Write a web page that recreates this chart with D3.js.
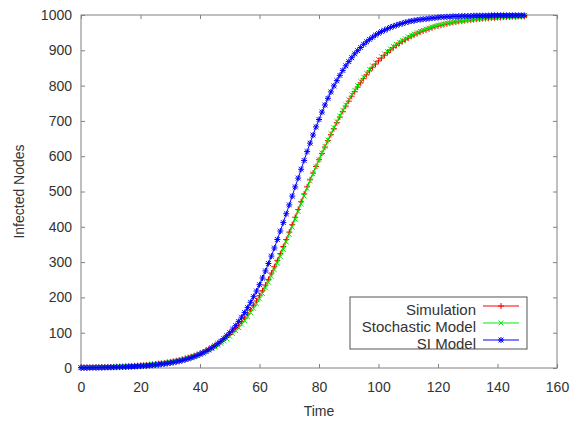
<!DOCTYPE html>
<html>
<head>
<meta charset="utf-8">
<script src="https://cdn.jsdelivr.net/npm/d3@7"></script>
<style>
  body { margin: 0; background: #fff; }
  svg { display: block; font-family: "Liberation Sans", Arial, sans-serif; }
  .axis path { display: none; }
  .axis line { stroke: #808080; }
  .axis text { fill: #333; font-size: 14px; }
</style>
</head>
<body>
<svg id="chart" width="579" height="423"></svg>
<script>
// time steps 0..149
let time = d3.range(150);

let simulation = [
  1.2,1.3,1.5,1.6,1.8,1.9,2.1,2.3,2.5,2.7,
  3.0,3.3,3.6,3.9,4.3,4.7,5.1,5.6,6.1,6.6,
  7.2,7.9,8.6,9.4,10.3,11.3,12.3,13.4,14.6,16.0,
  17.5,19.0,20.8,22.7,24.7,27.0,29.4,32.0,34.7,38.0,
  41.5,45.2,49.2,53.5,58.1,63.3,68.9,74.6,81.3,88.1,
  95.5,103.5,112,121,131,141,153,164,177,190,
  205,219,235,251,269,287,305,324,344,364,
  385,406,427,449,471,493,513,533,552,571,
  590,608,626,644,661,678,695,711,727,742,
  756,770,783,796,808,820,831,842,852,861,
  870,878,886,894,901,908,914,920,925,930,
  935,940,944,948,952,955,958,961,964,967,
  969,971,973,975,977,979,980,982,983,984,
  985,986,987,988,989,990,990,991,992,992,
  993,993,994,994,995,995,995,996,996,996
];

let stochastic = [
  1.1,1.2,1.4,1.5,1.7,1.8,2.0,2.2,2.4,2.6,
  2.9,3.2,3.5,3.8,4.1,4.5,4.9,5.4,5.9,6.4,
  7.0,7.6,8.3,9.1,10.0,10.9,11.9,13.0,14.1,15.4,
  16.8,18.3,19.9,21.7,23.6,25.8,28.1,30.5,33.1,36.1,
  39.3,42.8,46.5,50.5,54.8,59.6,64.7,70.2,76.3,82.8,
  89.8,97.4,105.5,114,124,134,145,157,169,182,
  196,211,227,243,260,278,297,316,336,357,
  378,399,421,443,465,487,509,530,550,570,
  590,609,628,646,664,681,698,714,730,745,
  760,774,787,800,812,824,835,846,856,865,
  874,882,890,897,904,911,917,923,928,933,
  938,942,946,950,954,957,960,963,966,968,
  971,973,975,977,978,980,981,983,984,985,
  986,987,988,989,990,991,991,992,992,993,
  993,994,994,995,995,995,996,996,996,997
];

let siModel = [
  0.7,0.8,0.8,0.9,1.0,1.1,1.3,1.4,1.5,1.7,
  1.9,2.1,2.3,2.6,2.8,3.1,3.5,3.8,4.3,4.7,
  5.2,5.8,6.4,7.0,7.8,8.6,9.5,10.6,11.7,12.9,
  14.3,15.8,17.5,19.3,21.4,23.6,26.1,28.8,31.8,35.1,
  38.8,42.7,47.0,51.8,57.1,62.9,69.0,75.8,83.3,91.6,
  100,110,120,132,144,157,171,186,202,218,
  236,255,275,296,317,340,364,388,412,437,
  462,487,513,538,563,588,613,637,660,683,
  704,725,745,764,782,799,814,829,843,856,
  868,879,890,899,908,917,924,931,937,943,
  948,953,957,961,965,968,971,974,976,979,
  981,983,984,986,987,988,989,990,991,992,
  993,994,994,995,995,996,996,996,997,997,
  997,997,998,998,998,998,998,998,999,999,
  999,999,999,999,999,999,999,999,999,999
];

let xTicks = [0, 20, 40, 60, 80, 100, 120, 140, 160];
let yTicks = [0, 100, 200, 300, 400, 500, 600, 700, 800, 900, 1000];

let seriesNames = ["Simulation", "Stochastic Model", "SI Model"];
let seriesColors = ["#ff0000", "#00ee00", "#0000ff"];
let seriesMarkers = ["plus", "cross", "star"];

let svg = d3.select("#chart");
let mLeft = 81, mRight = 557, mTop = 15, mBottom = 368;

let x = d3.scaleLinear().domain([0, 160]).range([mLeft, mRight]);
let y = d3.scaleLinear().domain([0, 1000]).range([mBottom, mTop]);

function markerPath(type) {
  let s = 3, c = 2.4;
  let plus = `M${-s},0H${s}M0,${-s}V${s}`;
  let cross = `M${-c},${-c}L${c},${c}M${-c},${c}L${c},${-c}`;
  if (type == "plus") return plus;
  if (type == "cross") return cross;
  return plus + cross;
}

// axes (inward ticks, mirrored)
svg.append("g").attr("class", "axis")
  .attr("transform", `translate(0,${mBottom})`)
  .call(d3.axisBottom(x).tickValues(xTicks).tickSize(-4).tickPadding(14).tickFormat(d3.format("d")));
svg.append("g").attr("class", "axis")
  .attr("transform", `translate(0,${mTop})`)
  .call(d3.axisTop(x).tickValues(xTicks).tickSize(-4).tickFormat(""));
svg.append("g").attr("class", "axis")
  .attr("transform", `translate(${mLeft},0)`)
  .call(d3.axisLeft(y).tickValues(yTicks).tickSize(-4).tickPadding(9).tickFormat(d3.format("d")));
svg.append("g").attr("class", "axis")
  .attr("transform", `translate(${mRight},0)`)
  .call(d3.axisRight(y).tickValues(yTicks).tickSize(-4).tickFormat(""));

svg.append("rect")
  .attr("x", mLeft).attr("y", mTop)
  .attr("width", mRight - mLeft).attr("height", mBottom - mTop)
  .style("fill", "none").style("stroke", "#808080");

// axis titles
svg.append("text")
  .attr("x", (mLeft + mRight) / 2).attr("y", 416)
  .attr("text-anchor", "middle")
  .style("font-size", "14px").style("fill", "#333")
  .text("Time");
svg.append("text")
  .attr("transform", `translate(24,${(mTop + mBottom) / 2}) rotate(-90)`)
  .attr("text-anchor", "middle")
  .style("font-size", "14px").style("fill", "#333")
  .text("Infected Nodes");

// series
let allSeries = [simulation, stochastic, siModel];
let line = d3.line().x((d, i) => x(time[i])).y(d => y(d));

allSeries.forEach(function (values, k) {
  let g = svg.append("g");
  g.append("path")
    .attr("d", line(values))
    .style("fill", "none")
    .style("stroke", seriesColors[k])
    .style("stroke-width", 1);
  g.selectAll("path.m").data(values).enter().append("path")
    .attr("class", "m")
    .attr("transform", (d, i) => `translate(${x(time[i])},${y(d)})`)
    .attr("d", markerPath(seriesMarkers[k]))
    .style("fill", "none")
    .style("stroke", seriesColors[k])
    .style("stroke-width", 1);
});

// legend
let legend = svg.append("g");
legend.append("rect")
  .attr("x", 350).attr("y", 297).attr("width", 177).attr("height", 52)
  .style("fill", "#fff").style("stroke", "#555");
seriesNames.forEach(function (name, k) {
  let ly = 306 + k * 17;
  legend.append("text")
    .attr("x", 476).attr("y", ly + 8.5)
    .attr("text-anchor", "end")
    .style("font-size", "15px").style("fill", "#333")
    .text(name);
  legend.append("line")
    .attr("x1", 483).attr("x2", 519).attr("y1", ly).attr("y2", ly)
    .style("stroke", seriesColors[k]);
  legend.append("path")
    .attr("transform", `translate(501,${ly})`)
    .attr("d", markerPath(seriesMarkers[k]))
    .style("fill", "none").style("stroke", seriesColors[k]);
});
</script>
</body>
</html>
